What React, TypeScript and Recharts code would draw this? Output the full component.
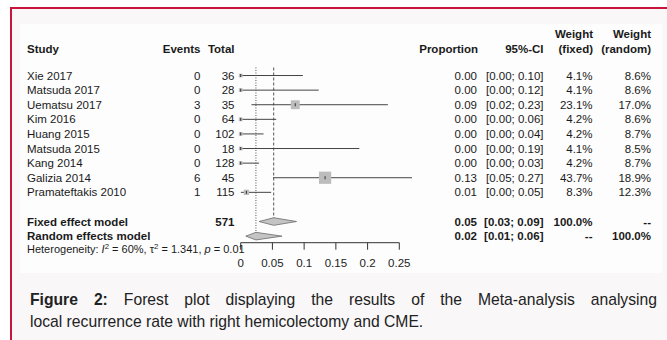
import React from "react";
import { ScatterChart, Scatter, XAxis, YAxis, ReferenceLine } from "recharts";

const studies = ["Xie 2017", "Matsuda 2017", "Uematsu 2017", "Kim 2016", "Huang 2015", "Matsuda 2015", "Kang 2014", "Galizia 2014", "Pramateftakis 2010"];
const events = [0, 0, 3, 0, 0, 0, 0, 6, 1];
const totals = [36, 28, 35, 64, 102, 18, 128, 45, 115];
const proportions = [0, 0, 0.086, 0, 0, 0, 0, 0.133, 0.009];
const ciLow = [0, 0, 0.017, 0, 0, 0, 0, 0.051, 0.0002];
const ciHigh = [0.098, 0.123, 0.232, 0.056, 0.036, 0.187, 0.029, 0.27, 0.048];
const weightFixed = [4.1, 4.1, 23.1, 4.2, 4.2, 4.1, 4.2, 43.7, 8.3];
const propLabels = ["0.00", "0.00", "0.09", "0.00", "0.00", "0.00", "0.00", "0.13", "0.01"];
const ciLabels = ["[0.00; 0.10]", "[0.00; 0.12]", "[0.02; 0.23]", "[0.00; 0.06]", "[0.00; 0.04]", "[0.00; 0.19]", "[0.00; 0.03]", "[0.05; 0.27]", "[0.00; 0.05]"];
const weightFixedLabels = ["4.1%", "4.1%", "23.1%", "4.2%", "4.2%", "4.1%", "4.2%", "43.7%", "8.3%"];
const weightRandomLabels = ["8.6%", "8.6%", "17.0%", "8.6%", "8.7%", "8.5%", "8.7%", "18.9%", "12.3%"];

const summaryNames = ["Fixed effect model", "Random effects model"];
const summaryRowIndex = [10, 11];
const summaryTotals = ["571", ""];
const summaryEst = [0.052, 0.024];
const summaryLow = [0.029, 0.008];
const summaryHigh = [0.088, 0.065];
const summaryPropLabels = ["0.05", "0.02"];
const summaryCiLabels = ["[0.03; 0.09]", "[0.01; 0.06]"];
const summaryWFixedLabels = ["100.0%", "--"];
const summaryWRandomLabels = ["--", "100.0%"];
const summaryLineDash = ["3 2", "1 1.5"];

const xTicks = [0, 0.05, 0.1, 0.15, 0.2, 0.25];
const xTickLabels = ["0", "0.05", "0.1", "0.15", "0.2", "0.25"];
const yDomain = [-0.55, 11.45];

const FONT = "'Liberation Sans', Arial, Helvetica, sans-serif";
const TXT = "#1a1a1a";

const studyRows = studies.map((name, i) => ({
  x: proportions[i],
  y: i,
  wf: weightFixed[i],
  name,
  events: String(events[i]),
  total: String(totals[i]),
  prop: propLabels[i],
  ci: ciLabels[i],
  wfl: weightFixedLabels[i],
  wrl: weightRandomLabels[i],
  bold: false,
}));

const summaryRows = summaryNames.map((name, i) => ({
  x: summaryEst[i],
  y: summaryRowIndex[i],
  name,
  events: "",
  total: summaryTotals[i],
  prop: summaryPropLabels[i],
  ci: summaryCiLabels[i],
  wfl: summaryWFixedLabels[i],
  wrl: summaryWRandomLabels[i],
  bold: true,
}));

const labelRows = [...studyRows, ...summaryRows];

const SquareShape = (props: any) => {
  const { cx, cy, payload } = props;
  const s = 1.85 * Math.sqrt(payload.wf);
  return (
    <g>
      <rect x={cx - s / 2} y={cy - s / 2} width={s} height={s} fill="#bcbcbc" />
      <line x1={cx} x2={cx} y1={cy - 1.5} y2={cy + 1.5} stroke="#333" strokeWidth={1} />
    </g>
  );
};

const LabelShape = (props: any) => {
  const { cy, payload } = props;
  const fw = payload.bold ? 700 : 400;
  const common = { y: cy, dy: "0.36em", fontFamily: FONT, fontSize: 11.5, fill: TXT, fontWeight: fw } as any;
  return (
    <g>
      <text {...common} x={27}>{payload.name}</text>
      <text {...common} x={200.5} textAnchor="end">{payload.events}</text>
      <text {...common} x={234.5} textAnchor="end">{payload.total}</text>
      <text {...common} x={477} textAnchor="end">{payload.prop}</text>
      <text {...common} x={543.5} textAnchor="end">{payload.ci}</text>
      <text {...common} x={592.5} textAnchor="end">{payload.wfl}</text>
      <text {...common} x={651} textAnchor="end">{payload.wrl}</text>
    </g>
  );
};

const makeDiamond = (i: number) => (p: any) => {
  const { x1, y1, x2 } = p;
  const xHigh = x1 + ((x2 - x1) * (summaryHigh[i] - summaryLow[i])) / (summaryEst[i] - summaryLow[i]);
  const h = 3.8;
  return (
    <polygon
      points={`${x1},${y1} ${x2},${y1 - h} ${xHigh},${y1} ${x2},${y1 + h}`}
      fill="#c4c4c4"
      stroke="#6a6a6a"
      strokeWidth={0.8}
    />
  );
};

const Headers = () => {
  const h = { fontFamily: FONT, fontSize: 11.5, fill: TXT, fontWeight: 700 } as any;
  const sup = { fontSize: 7.8 } as any;
  return (
    <svg width={667} height={340} style={{ position: "absolute", left: 0, top: 0, pointerEvents: "none" }}>
      <text {...h} x={27} y={53}>Study</text>
      <text {...h} x={200.5} y={53} textAnchor="end">Events</text>
      <text {...h} x={234.5} y={53} textAnchor="end">Total</text>
      <text {...h} x={478} y={53} textAnchor="end">Proportion</text>
      <text {...h} x={543.5} y={53} textAnchor="end">95%-CI</text>
      <text {...h} x={593} y={38} textAnchor="end">Weight</text>
      <text {...h} x={593} y={53} textAnchor="end">(fixed)</text>
      <text {...h} x={651} y={38} textAnchor="end">Weight</text>
      <text {...h} x={651} y={53} textAnchor="end">(random)</text>
      <text x={27} y={252.5} fontFamily={FONT} fontSize={11} fill={TXT}>
        <tspan>Heterogeneity: </tspan>
        <tspan fontStyle="italic">I</tspan>
        <tspan {...sup} dy={-4}>2</tspan>
        <tspan dy={4}> = 60%, τ</tspan>
        <tspan {...sup} dy={-4}>2</tspan>
        <tspan dy={4}> = 1.341, </tspan>
        <tspan fontStyle="italic">p</tspan>
        <tspan> = 0.01</tspan>
      </text>
    </svg>
  );
};

export default function App() {
  return (
    <div style={{ position: "absolute", left: 0, top: 0, width: 667, height: 340, background: "#ffffff", overflow: "hidden" }}>
      <div style={{ position: "absolute", left: 10, top: 7, width: 657, height: 333, background: "#f9f7f8", borderTop: "2px solid #c8153c", borderLeft: "2px solid #c8153c", boxSizing: "border-box" }} />
      <div style={{ position: "absolute", left: 20, top: 24, width: 642, height: 249, background: "#fdfdfd" }} />
      <div style={{ position: "absolute", left: 0, top: 0 }}>
        <ScatterChart width={667} height={340} margin={{ top: 67.5, left: 240.7, right: 267.7, bottom: 67.3 }}>
          <XAxis
            type="number"
            dataKey="x"
            domain={[0, 0.25]}
            ticks={xTicks}
            interval={0}
            tickFormatter={(v: number, i: number) => xTickLabels[i]}
            tickSize={7}
            tickMargin={9}
            height={30}
            axisLine={{ stroke: "#333" }}
            tickLine={{ stroke: "#333" }}
            tick={{ fontSize: 11.5, fill: "#222", fontFamily: FONT }}
          />
          <YAxis type="number" dataKey="y" domain={yDomain} reversed hide />
          {summaryEst.map((e, i) => (
            <ReferenceLine
              key={"v" + i}
              segment={[{ x: e, y: yDomain[0] }, { x: e, y: summaryRowIndex[i] }]}
              stroke="#555"
              strokeWidth={1}
              strokeDasharray={summaryLineDash[i]}
              ifOverflow="visible"
            />
          ))}
          {studyRows.map((r, i) => (
            <ReferenceLine
              key={"ci" + i}
              segment={[{ x: ciLow[i], y: r.y }, { x: ciHigh[i], y: r.y }]}
              stroke="#444"
              strokeWidth={1}
              ifOverflow="visible"
            />
          ))}
          {summaryEst.map((e, i) => (
            <ReferenceLine
              key={"d" + i}
              segment={[{ x: summaryLow[i], y: summaryRowIndex[i] }, { x: e, y: summaryRowIndex[i] }]}
              ifOverflow="visible"
              shape={makeDiamond(i)}
            />
          ))}
          <Scatter data={studyRows} shape={SquareShape} isAnimationActive={false} />
          <Scatter data={labelRows} shape={LabelShape} isAnimationActive={false} />
        </ScatterChart>
      </div>
      <Headers />
      <div style={{ position: "absolute", left: 30, top: 289, width: 627, fontFamily: FONT, fontSize: 15.7, lineHeight: "22px", color: "#222" }}>
        <div style={{ textAlign: "justify", textAlignLast: "justify" as any, whiteSpace: "nowrap" }}>
          <b>Figure 2:</b> Forest plot displaying the results of the Meta-analysis analysing
        </div>
        <div>local recurrence rate with right hemicolectomy and CME.</div>
      </div>
    </div>
  );
}
